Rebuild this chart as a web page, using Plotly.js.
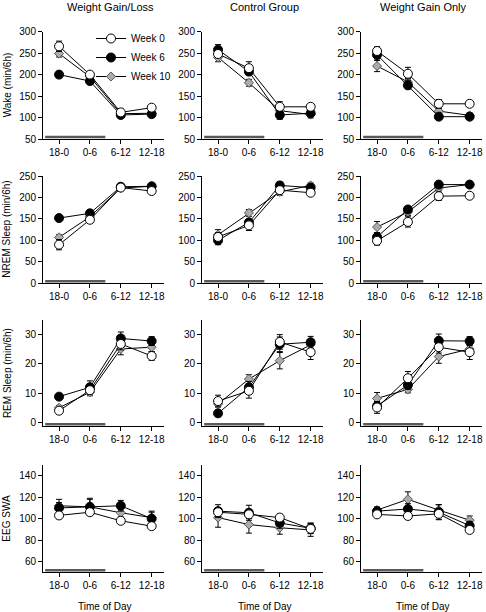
<!DOCTYPE html>
<html>
<head>
<meta charset="utf-8">
<script src="https://cdn.plot.ly/plotly-3.0.1.min.js"></script>
<style>html,body{margin:0;padding:0;background:#fff;}#chart{width:486px;height:612px;}</style>
</head>
<body>
<div id="chart"></div>
<script>
// ---------------- DATA ----------------
const timeOfDay = ['18-0', '0-6', '6-12', '12-18'];
const seriesNames = ['Week 0', 'Week 6', 'Week 10'];
const groupTitles = ['Weight Gain/Loss', 'Control Group', 'Weight Gain Only'];
const measureTitles = ['Wake (min/6h)', 'NREM Sleep (min/6h)', 'REM Sleep (min/6h)', 'EEG SWA'];

// Wake (min/6h)
const wake_GL_wk0 = [266, 200, 112, 123];   const wake_GL_wk0_err = [12, 5, 8, 4];
const wake_GL_wk6 = [200, 185, 106, 108];   const wake_GL_wk6_err = [4, 6, 5, 4];
const wake_GL_wk10 = [249, 195, 109, 110];  const wake_GL_wk10_err = [8, 5, 5, 5];
const wake_CG_wk0 = [248, 215, 125, 125];   const wake_CG_wk0_err = [8, 15, 12, 5];
const wake_CG_wk6 = [258, 207, 106, 110];   const wake_CG_wk6_err = [12, 8, 10, 6];
const wake_CG_wk10 = [240, 181, 116, 107];  const wake_CG_wk10_err = [10, 8, 8, 8];
const wake_GO_wk0 = [255, 202, 132, 132];   const wake_GO_wk0_err = [10, 15, 10, 6];
const wake_GO_wk6 = [246, 175, 102, 102];   const wake_GO_wk6_err = [12, 8, 5, 4];
const wake_GO_wk10 = [220, 183, 115, 105];  const wake_GO_wk10_err = [13, 8, 6, 6];

// NREM Sleep (min/6h)
const nrem_GL_wk0 = [90, 148, 223, 215];    const nrem_GL_wk0_err = [12, 5, 5, 4];
const nrem_GL_wk6 = [152, 163, 225, 226];   const nrem_GL_wk6_err = [5, 5, 4, 4];
const nrem_GL_wk10 = [107, 155, 222, 226];  const nrem_GL_wk10_err = [6, 5, 5, 4];
const nrem_CG_wk0 = [108, 135, 217, 211];   const nrem_CG_wk0_err = [10, 12, 8, 4];
const nrem_CG_wk6 = [100, 142, 228, 223];   const nrem_CG_wk6_err = [10, 6, 8, 6];
const nrem_CG_wk10 = [113, 164, 213, 228];  const nrem_CG_wk10_err = [12, 8, 8, 6];
const nrem_GO_wk0 = [99, 143, 203, 204];    const nrem_GO_wk0_err = [10, 12, 10, 5];
const nrem_GO_wk6 = [108, 172, 230, 230];   const nrem_GO_wk6_err = [10, 6, 4, 4];
const nrem_GO_wk10 = [131, 166, 222, 230];  const nrem_GO_wk10_err = [13, 8, 5, 4];

// REM Sleep (min/6h)
const rem_GL_wk0 = [4.0, 11.0, 26.8, 22.7];  const rem_GL_wk0_err = [0.8, 1.2, 2.0, 1.5];
const rem_GL_wk6 = [8.8, 12.0, 28.7, 27.8];  const rem_GL_wk6_err = [0.8, 2.2, 2.2, 1.5];
const rem_GL_wk10 = [5.0, 10.3, 25.1, 25.7]; const rem_GL_wk10_err = [0.8, 1.2, 2.0, 1.5];
const rem_CG_wk0 = [7.3, 10.8, 27.5, 24.0];  const rem_CG_wk0_err = [2.0, 2.5, 2.5, 2.5];
const rem_CG_wk6 = [3.1, 12.0, 26.7, 27.4];  const rem_CG_wk6_err = [0.6, 2.0, 2.5, 2.0];
const rem_CG_wk10 = [6.3, 14.8, 21.1, 26.5]; const rem_CG_wk10_err = [1.0, 1.5, 2.8, 1.5];
const rem_GO_wk0 = [5.1, 15.1, 25.7, 24.0];  const rem_GO_wk0_err = [2.0, 2.3, 2.0, 2.5];
const rem_GO_wk6 = [5.6, 12.8, 27.9, 27.8];  const rem_GO_wk6_err = [1.5, 1.5, 2.3, 1.5];
const rem_GO_wk10 = [8.2, 11.3, 22.5, 25.1]; const rem_GO_wk10_err = [2.0, 1.2, 2.3, 1.5];

// EEG SWA
const swa_GL_wk0 = [103, 106, 98, 93];      const swa_GL_wk0_err = [3, 3, 2, 2];
const swa_GL_wk6 = [110, 111, 112, 100];    const swa_GL_wk6_err = [5, 8, 5, 6];
const swa_GL_wk10 = [112, 111, 105.5, 101]; const swa_GL_wk10_err = [6, 7, 4, 6];
const swa_CG_wk0 = [106, 104, 101, 90.5];   const swa_CG_wk0_err = [4, 4, 3, 4];
const swa_CG_wk6 = [107, 105.5, 96, 91];    const swa_CG_wk6_err = [6, 7, 5, 5];
const swa_CG_wk10 = [101, 94.5, 91.5, 89.5];const swa_CG_wk10_err = [9, 8, 6, 6];
const swa_GO_wk0 = [104, 102.5, 104.5, 89.5]; const swa_GO_wk0_err = [2, 3, 5, 2];
const swa_GO_wk6 = [107, 109, 106, 93.5];   const swa_GO_wk6_err = [3, 5, 7, 4];
const swa_GO_wk10 = [108, 118, 108, 98.5];  const swa_GO_wk10_err = [3, 7, 5, 4];

// y-axis tick values per measure
const wakeTicks = [50, 100, 150, 200, 250, 300];
const nremTicks = [0, 50, 100, 150, 200, 250];
const remTicks = [0, 10, 20, 30];
const swaTicks = [60, 80, 100, 120, 140];
// dark period (18:00 - 06:00) marker along the time axis, in category units
const darkPeriod = [-0.45, 1.5];

// ---------------- ASSEMBLY ----------------
const panels = [
  [[wake_GL_wk0, wake_GL_wk0_err, wake_GL_wk6, wake_GL_wk6_err, wake_GL_wk10, wake_GL_wk10_err],
   [wake_CG_wk0, wake_CG_wk0_err, wake_CG_wk6, wake_CG_wk6_err, wake_CG_wk10, wake_CG_wk10_err],
   [wake_GO_wk0, wake_GO_wk0_err, wake_GO_wk6, wake_GO_wk6_err, wake_GO_wk10, wake_GO_wk10_err]],
  [[nrem_GL_wk0, nrem_GL_wk0_err, nrem_GL_wk6, nrem_GL_wk6_err, nrem_GL_wk10, nrem_GL_wk10_err],
   [nrem_CG_wk0, nrem_CG_wk0_err, nrem_CG_wk6, nrem_CG_wk6_err, nrem_CG_wk10, nrem_CG_wk10_err],
   [nrem_GO_wk0, nrem_GO_wk0_err, nrem_GO_wk6, nrem_GO_wk6_err, nrem_GO_wk10, nrem_GO_wk10_err]],
  [[rem_GL_wk0, rem_GL_wk0_err, rem_GL_wk6, rem_GL_wk6_err, rem_GL_wk10, rem_GL_wk10_err],
   [rem_CG_wk0, rem_CG_wk0_err, rem_CG_wk6, rem_CG_wk6_err, rem_CG_wk10, rem_CG_wk10_err],
   [rem_GO_wk0, rem_GO_wk0_err, rem_GO_wk6, rem_GO_wk6_err, rem_GO_wk10, rem_GO_wk10_err]],
  [[swa_GL_wk0, swa_GL_wk0_err, swa_GL_wk6, swa_GL_wk6_err, swa_GL_wk10, swa_GL_wk10_err],
   [swa_CG_wk0, swa_CG_wk0_err, swa_CG_wk6, swa_CG_wk6_err, swa_CG_wk10, swa_CG_wk10_err],
   [swa_GO_wk0, swa_GO_wk0_err, swa_GO_wk6, swa_GO_wk6_err, swa_GO_wk10, swa_GO_wk10_err]]
];
const rowTicks = [wakeTicks, nremTicks, remTicks, swaTicks];
const rowRanges = [[50, 300], [0, 250], [-1.3, 35], [50, 150]];

// ---------------- STYLE / LAYOUT ----------------
const W = 486, H = 612;
const FONT = 'Liberation Sans, Arial, Helvetica, sans-serif';
const colPx = [[43, 164], [202, 323], [361, 482]];
const rowPx = [[31.7, 139], [176, 283.3], [320, 426.2], [465, 572.3]];
const titleX = [110, 264, 423];
const timeTitleX = [105, 265, 423];

const markerStyles = [
  {symbol: 'circle', size: 9, color: '#ffffff', line: {color: '#000', width: 1}},
  {symbol: 'circle', size: 9, color: '#000000', line: {color: '#000', width: 1}},
  {symbol: 'diamond', size: 7, color: '#ababab', line: {color: '#5a5a5a', width: 1}}
];

const traces = [];
const layout = {
  width: W, height: H,
  margin: {l: 0, r: 0, t: 0, b: 0},
  paper_bgcolor: '#fff', plot_bgcolor: 'rgba(0,0,0,0)',
  font: {family: FONT, size: 10, color: '#000'},
  showlegend: true,
  legend: {
    x: 91 / W, y: 1 - 24 / H, xanchor: 'left', yanchor: 'top',
    bgcolor: 'rgba(0,0,0,0)', borderwidth: 0,
    font: {family: FONT, size: 10, color: '#000'},
    traceorder: 'reversed', tracegroupgap: 0
  },
  shapes: [], annotations: []
};

for (let r = 0; r < 4; r++) {
  for (let c = 0; c < 3; c++) {
    const idx = r * 3 + c + 1;
    const xa = 'x' + idx, ya = 'y' + idx;
    const xk = 'xaxis' + idx, yk = 'yaxis' + idx;
    layout[xk] = {
      domain: [colPx[c][0] / W, colPx[c][1] / W],
      anchor: ya, type: 'category', range: [-0.52, 3.4],
      showline: true, linecolor: '#000', linewidth: 1,
      ticks: 'outside', ticklen: 4, tickcolor: '#000', tickwidth: 1,
      showgrid: false, zeroline: false, fixedrange: true,
      tickfont: {family: FONT, size: 10, color: '#000'}
    };
    layout[yk] = {
      domain: [1 - rowPx[r][1] / H, 1 - rowPx[r][0] / H],
      anchor: xa, range: rowRanges[r], tickvals: rowTicks[r],
      showline: true, linecolor: '#000', linewidth: 1,
      ticks: 'outside', ticklen: 4, tickcolor: '#000', tickwidth: 1,
      showgrid: false, zeroline: false, fixedrange: true,
      tickfont: {family: FONT, size: 10, color: '#000'}
    };
    const d = panels[r][c];
    // draw Week 10 first, then Week 6, then Week 0 on top
    for (const s of [2, 1, 0]) {
      traces.push({
        type: 'scatter', mode: 'lines+markers',
        x: timeOfDay, y: d[s * 2],
        xaxis: xa, yaxis: ya,
        name: seriesNames[s], legendgroup: seriesNames[s],
        showlegend: (r === 0 && c === 0),
        line: {color: '#000', width: 1},
        marker: markerStyles[s],
        error_y: {type: 'data', array: d[s * 2 + 1], visible: true, color: '#000', thickness: 1, width: 3},
        cliponaxis: false, hoverinfo: 'skip'
      });
    }
    // dark-period bar
    layout.shapes.push({
      type: 'line', xref: xa, yref: ya + ' domain',
      x0: darkPeriod[0], x1: darkPeriod[1], y0: 0.018, y1: 0.018,
      line: {color: '#5a5a5a', width: 2.5}
    });
  }
}

// column titles
for (let c = 0; c < 3; c++) {
  layout.annotations.push({
    text: groupTitles[c], xref: 'paper', yref: 'paper',
    x: titleX[c] / W, y: 1 - 7.5 / H, xanchor: 'center', yanchor: 'middle',
    showarrow: false, font: {family: FONT, size: 11, color: '#000'}
  });
  layout.annotations.push({
    text: 'Time of Day', xref: 'paper', yref: 'paper',
    x: timeTitleX[c] / W, y: 1 - 606 / H, xanchor: 'center', yanchor: 'middle',
    showarrow: false, font: {family: FONT, size: 10, color: '#000'}
  });
}
// row (y-axis) titles
for (let r = 0; r < 4; r++) {
  layout.annotations.push({
    text: measureTitles[r], xref: 'paper', yref: 'paper',
    x: 7 / W, y: 1 - ((rowPx[r][0] + rowPx[r][1]) / 2) / H,
    xanchor: 'center', yanchor: 'middle', textangle: -90,
    showarrow: false, font: {family: FONT, size: 10, color: '#000'}
  });
}

Plotly.newPlot('chart', traces, layout, {displayModeBar: false, staticPlot: true});
</script>
</body>
</html>
